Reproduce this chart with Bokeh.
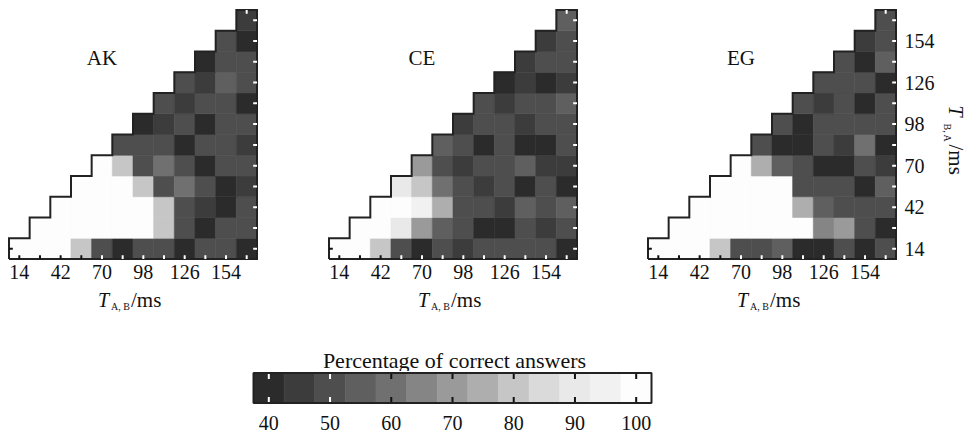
import math
from bokeh.plotting import figure
from bokeh.models import ColumnDataSource, LinearColorMapper, Range1d, FixedTicker, LinearAxis, Label
from bokeh.layouts import row, column
from bokeh.embed import file_html
from bokeh.resources import INLINE

# ---------------- data ----------------
CELL_CENTERS = [14, 28, 42, 56, 70, 84, 98, 112, 126, 140, 154, 168]   # ms
X_TICKS = [14, 42, 70, 98, 126, 154]
Y_TICKS = [14, 42, 70, 98, 126, 154]
LEVELS = [40, 45, 50, 55, 60, 65, 70, 75, 80, 85, 90, 95, 100]
CBAR_TICKS = [40, 50, 60, 70, 80, 90, 100]
GREYS = ["#2b2b2b", "#3c3c3c", "#4e4e4e", "#5f5f5f", "#707070", "#858585",
         "#9a9a9a", "#aeaeae", "#c6c6c6", "#dadada", "#e9e9e9", "#f1f1f1", "#fdfdfd"]

# rows from T_B,A = 14 (bottom) upward; row r holds columns r..12
AK = [
    [100, 100, 100, 80, 50, 40, 50, 50, 40, 50, 50, 40],
    [100, 100, 100, 100, 100, 100, 80, 50, 40, 50, 50],
    [100, 100, 100, 100, 100, 80, 50, 45, 40, 50],
    [100, 100, 100, 80, 50, 60, 50, 40, 45],
    [100, 80, 50, 60, 50, 40, 50, 50],
    [50, 50, 50, 40, 50, 50, 45],
    [40, 45, 50, 40, 50, 50],
    [50, 45, 50, 50, 40],
    [50, 45, 55, 50],
    [40, 50, 50],
    [50, 40],
    [45],
]
CE = [
    [100, 100, 80, 50, 40, 50, 45, 50, 50, 50, 50, 40],
    [100, 100, 90, 70, 55, 50, 40, 40, 50, 45, 50],
    [100, 100, 95, 75, 50, 50, 45, 55, 50, 55],
    [90, 80, 60, 50, 45, 50, 40, 50, 40],
    [70, 50, 45, 50, 50, 55, 45, 45],
    [55, 50, 40, 50, 40, 40, 50],
    [45, 50, 50, 45, 50, 50],
    [50, 45, 50, 50, 55],
    [40, 45, 40, 45],
    [45, 50, 50],
    [45, 50],
    [55],
]
EG = [
    [100, 100, 100, 80, 50, 50, 55, 40, 40, 50, 40, 50],
    [100, 100, 100, 100, 100, 100, 100, 65, 70, 50, 40],
    [100, 100, 100, 100, 100, 75, 55, 50, 50, 50],
    [100, 100, 100, 100, 50, 50, 50, 40, 55],
    [100, 75, 55, 50, 40, 40, 50, 45],
    [50, 40, 40, 50, 45, 60, 40],
    [50, 40, 50, 50, 50, 50],
    [50, 45, 50, 40, 50],
    [50, 50, 50, 40],
    [50, 40, 55],
    [45, 50],
    [50],
]
PANELS = [("AK", AK), ("CE", CE), ("EG", EG)]
X_TITLE_MAIN = "T"
X_TITLE_SUB = "A, B"
Y_TITLE_SUB = "B, A"
UNIT = "/ms"
CBAR_TITLE = "Percentage of correct answers"

# ---------------- styling ----------------
FONT = "Liberation Serif"
LINE = "#222222"
TXT = "#111111"
STEP = CELL_CENTERS[1] - CELL_CENTERS[0]
LO = CELL_CENTERS[0] - STEP / 2
HI = CELL_CENTERS[-1] + STEP / 2
MARGIN = 1.0
TL = 2.6  # inner tick length in data units
TOP_B, FRAME_H, BOT_B = 8, 252, 29
TOP_H = TOP_B + FRAME_H + BOT_B      # 289
STRIP_BOTTOM = 371                   # screen y where the colorbar figure starts
STRIP_H = STRIP_BOTTOM - TOP_H

mapper = LinearColorMapper(palette=GREYS, low=LEVELS[0] - 2.5, high=LEVELS[-1] + 2.5)


def tick_color(v):
    return "white" if v < 57 else "#111111"


def style_axis(ax, standoff):
    ax.axis_line_color = None
    ax.major_tick_line_color = None
    ax.minor_tick_line_color = None
    ax.major_tick_in = 0
    ax.major_tick_out = 0
    ax.major_label_standoff = standoff
    ax.major_label_text_font = FONT
    ax.major_label_text_font_size = "20px"
    ax.major_label_text_color = TXT


def bare(p):
    p.outline_line_color = None
    p.xgrid.visible = False
    p.ygrid.visible = False
    p.background_fill_color = "white"
    p.border_fill_color = "white"


def lab(fig, x, y, text, size, italic=False, angle=0.0, align="left"):
    fig.add_layout(Label(x=x, y=y, text=text, angle=angle, text_font=FONT,
                         text_font_style="italic" if italic else "normal",
                         text_font_size=size, text_align=align, text_baseline="middle",
                         text_color=TXT))


def make_panel(name, rows, width, left, right, show_y):
    n = len(CELL_CENTERS)
    xs, ys, vs = [], [], []
    grid = {}
    for ri, vals in enumerate(rows):
        for j, v in enumerate(vals):
            ci = ri + j
            xs.append(CELL_CENTERS[ci]); ys.append(CELL_CENTERS[ri]); vs.append(v)
            grid[(ri, ci)] = v
    src = ColumnDataSource(dict(x=xs, y=ys, v=vs))

    p = figure(width=width, height=TOP_H, output_backend="svg", toolbar_location=None, tools="",
               x_range=Range1d(LO - MARGIN, HI + MARGIN), y_range=Range1d(LO - MARGIN, HI + MARGIN),
               min_border_left=left, min_border_right=right, min_border_top=TOP_B,
               min_border_bottom=BOT_B, y_axis_location=None)
    bare(p)

    p.rect(x="x", y="y", width=STEP, height=STEP, source=src,
           fill_color={"field": "v", "transform": mapper},
           line_color={"field": "v", "transform": mapper}, line_width=0.6)

    # outline: staircase + bottom + right
    edges = [LO + STEP * k for k in range(n + 1)]
    ox, oy = [edges[0]], [edges[0]]
    for k in range(n):
        ox += [edges[k], edges[k + 1]]
        oy += [edges[k + 1], edges[k + 1]]
    ox += [edges[-1], edges[0]]
    oy += [edges[0], edges[0]]
    p.line(ox, oy, line_color=LINE, line_width=2, line_join="miter")

    # inner tick marks (only where cells touch the edge)
    x0, y0, x1, y1, cols = [], [], [], [], []
    for ci in range(n):
        if (0, ci) in grid:
            x0.append(CELL_CENTERS[ci]); x1.append(CELL_CENTERS[ci]); y0.append(LO); y1.append(LO + TL)
            cols.append(tick_color(grid[(0, ci)]))
        if (n - 1, ci) in grid:
            x0.append(CELL_CENTERS[ci]); x1.append(CELL_CENTERS[ci]); y0.append(HI); y1.append(HI - TL)
            cols.append(tick_color(grid[(n - 1, ci)]))
    for ri in range(n):
        if (ri, n - 1) in grid:
            x0.append(HI); x1.append(HI - TL); y0.append(CELL_CENTERS[ri]); y1.append(CELL_CENTERS[ri])
            cols.append(tick_color(grid[(ri, n - 1)]))
        if (ri, 0) in grid:
            x0.append(LO); x1.append(LO + TL); y0.append(CELL_CENTERS[ri]); y1.append(CELL_CENTERS[ri])
            cols.append(tick_color(grid[(ri, 0)]))
    p.segment(x0=x0, y0=y0, x1=x1, y1=y1, line_color=cols, line_width=2)

    ax = p.xaxis[0]
    ax.ticker = FixedTicker(ticks=X_TICKS)
    style_axis(ax, 4)

    if show_y:
        ya = LinearAxis(ticker=FixedTicker(ticks=Y_TICKS))
        style_axis(ya, 7)
        p.add_layout(ya, "right")

    lab(p, 70, 142.5, name, "21px", align="center")
    return p


f1 = make_panel(PANELS[0][0], PANELS[0][1], 327, 7, 69, False)
f2 = make_panel(PANELS[1][0], PANELS[1][1], 319, 0, 68, False)
f3 = make_panel(PANELS[2][0], PANELS[2][1], 294, 0, 43, True)

# rotated y title  T_{B,A} /ms  (strip right of the EG panel); frame spans screen y 8..260
fy = figure(width=27, height=TOP_H, output_backend="svg", toolbar_location=None, tools="",
            x_range=Range1d(0, 27), y_range=Range1d(0, FRAME_H),
            min_border_left=0, min_border_right=0, min_border_top=TOP_B, min_border_bottom=BOT_B,
            x_axis_location=None, y_axis_location=None)
bare(fy)
ybot = TOP_B + FRAME_H
lab(fy, 15.5, ybot - 105, X_TITLE_MAIN, "20px", italic=True, angle=-math.pi / 2)
lab(fy, 6.8, ybot - 123, Y_TITLE_SUB, "10px", angle=-math.pi / 2)
lab(fy, 15.0, ybot - 144, UNIT, "21px", angle=-math.pi / 2)

# strip with x titles and colorbar title (screen y TOP_H..371); data y = 371 - screen y
st = figure(width=967, height=STRIP_H, output_backend="svg", toolbar_location=None, tools="",
            x_range=Range1d(0, 967), y_range=Range1d(0, STRIP_H), min_border=0,
            x_axis_location=None, y_axis_location=None)
bare(st)
for gx in [8.5, 328.5, 647.5]:
    lab(st, gx + 89, STRIP_BOTTOM - 299.5, X_TITLE_MAIN, "20px", italic=True)
    lab(st, gx + 102, STRIP_BOTTOM - 306, X_TITLE_SUB, "10px")
    lab(st, gx + 122, STRIP_BOTTOM - 299.5, UNIT, "21px")
lab(st, 454, STRIP_BOTTOM - 359.5, CBAR_TITLE, "22px", align="center")

# ---------------- colorbar (frame spans full width so it aligns with the strip) ----------------
CB_L, CB_R = 253, 651          # bar pixel extent
lo_v, hi_v = LEVELS[0] - 2.5, LEVELS[-1] + 2.5
kpx = (CB_R - CB_L) / (hi_v - lo_v)
cb = figure(width=967, height=64, output_backend="svg", toolbar_location=None, tools="",
            x_range=Range1d(lo_v - CB_L / kpx, hi_v + (967 - CB_R) / kpx),
            y_range=Range1d(-0.05, 1.05),
            min_border_left=0, min_border_right=0, min_border_top=0, min_border_bottom=31,
            y_axis_location=None)
bare(cb)
csrc = ColumnDataSource(dict(x=LEVELS, y=[0.5] * len(LEVELS), v=LEVELS))
cb.rect(x="x", y="y", width=5, height=1, source=csrc,
        fill_color={"field": "v", "transform": mapper},
        line_color={"field": "v", "transform": mapper}, line_width=0.6)
tx0, ty0, tx1, ty1, tc = [], [], [], [], []
for t in CBAR_TICKS:
    tx0 += [t, t]; tx1 += [t, t]; ty0 += [0, 1]; ty1 += [0.2, 0.8]
    tc += [tick_color(t)] * 2
cb.segment(x0=tx0, y0=ty0, x1=tx1, y1=ty1, line_color=tc, line_width=2)
cb.rect(x=[(lo_v + hi_v) / 2], y=[0.5], width=hi_v - lo_v, height=1,
        fill_color=None, line_color=LINE, line_width=2)
cax = cb.xaxis[0]
cax.ticker = FixedTicker(ticks=CBAR_TICKS)
style_axis(cax, 11)

layout = column(row(f1, f2, f3, fy), st, cb)
open("out.html", "w").write(file_html(layout, INLINE))
